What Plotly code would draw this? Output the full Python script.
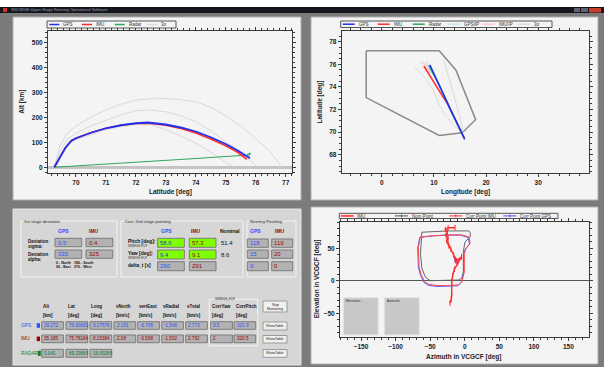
import plotly.graph_objects as go

# ---------------- data ----------------
# Top-left: altitude vs latitude
lat_gps = [69.28, 69.45, 69.65, 69.85, 70.0, 70.5, 71.0, 71.5, 72.0, 72.4, 73.0, 73.5, 74.0, 74.5, 75.0, 75.4, 75.81]
alt_gps = [0, 35, 78, 106, 116, 138, 156, 168, 176, 179, 171, 159, 143, 120, 93, 67, 36]
lat_imu = [69.28, 69.45, 69.65, 69.85, 70.0, 70.5, 71.0, 71.5, 72.0, 72.4, 73.0, 73.5, 74.0, 74.5, 75.0, 75.4, 75.70]
alt_imu = [0, 35, 78, 106, 116, 138, 156, 168, 175, 176, 168, 155, 137, 113, 86, 60, 32]
lat_radar = [69.28, 70.0, 71.0, 72.0, 73.0, 74.0, 75.0, 75.80, 75.82, 75.72]
alt_radar = [0, 5, 13, 20, 28, 35, 43, 49, 56, 52]
lat_s_outer = [69.28, 69.45, 69.7, 70.0, 70.5, 71.0, 71.5, 72.0, 72.6, 73.2, 74.0, 74.5, 75.0, 75.5, 76.0, 76.5, 76.87]
alt_s_outer = [0, 80, 135, 165, 200, 229, 252, 268, 276, 274, 262, 240, 205, 165, 115, 62, 0]
lat_s_mid = [69.28, 69.45, 69.7, 70.0, 70.5, 71.0, 71.5, 72.0, 72.4, 73.0, 73.5, 74.0, 74.5, 75.0, 75.5, 76.09]
alt_s_mid = [0, 60, 110, 136, 165, 189, 210, 226, 229, 222, 206, 183, 146, 103, 58, 0]
lat_s_low = [69.28, 69.5, 69.8, 70.0, 70.5, 71.0, 71.5, 72.0, 72.5, 73.0, 73.5, 74.0, 74.5, 75.0, 75.26]
alt_s_low = [0, 45, 95, 110, 130, 150, 163, 171, 170, 150, 125, 96, 60, 22, 0]

# Top-right: ground track
lon_gps = [15.9, 15.0, 14.2, 13.3, 12.5, 11.6, 10.8, 10.0, 9.2]
la_gps = [69.36, 70.2, 71.0, 71.85, 72.65, 73.55, 74.4, 75.2, 75.95]
lon_imu = [15.8, 15.0, 14.2, 13.3, 12.5, 11.5, 10.6, 9.2, 8.06]
la_imu = [69.5, 70.25, 71.0, 71.8, 72.6, 73.3, 74.0, 75.0, 75.85]
lon_radar = [15.8, 14.9, 14.1, 13.2, 12.4, 11.6, 10.9, 9.8, 9.0]
la_radar = [69.5, 70.3, 71.1, 71.95, 72.8, 73.6, 74.3, 75.2, 75.9]
lon_gpsiip = [8.6, 8.7, 9.4]
la_gpsiip = [76.35, 75.9, 75.2]
lon_imuiip = [7.4, 8.0, 8.5, 9.2]
la_imuiip = [76.1, 76.15, 75.9, 75.3]
lon_s_left = [6.2, 8.0, 9.8, 11.1, 12.5, 14.0, 15.3]
la_s_left = [75.8, 75.0, 73.8, 72.3, 71.3, 70.5, 70.0]
lon_s_right = [11.9, 12.9, 14.0, 14.9, 15.6]
la_s_right = [76.4, 74.8, 73.1, 71.5, 70.0]
lon_zone = [-3.0, 11.0, 14.2, 18.0, 15.4, 11.0, -3.0, -3.0]
la_zone = [77.2, 77.2, 75.5, 71.1, 69.95, 69.7, 73.05, 77.2]

# Bottom-right: pointing
az_nom = [-62, -45, -25, -5, 6, 8, 8, 0.5, -2, -2, -4, -9, -30, -50, -57, -62, -64, -63, -62]
el_nom = [75, 76, 77, 77, 77, 74, 68, 60, 45, 14, 5, 1.5, 0.5, 0.5, 6, 20, 42, 60, 75]
az_imu_loop = [-64, -45, -25, -5, 6, 8, 2, -0.5, -0.5, -4, -9, -25, -40, -52, -58, -63, -66, -67, -64]
el_imu_loop = [68, 70, 71, 71, 68, 58, 50, 42, 14, -1, -6, -7, -7, -5, -1, 10, 22, 52, 68]
az_gps_loop = [-65, -46, -26, -6, 5, 7, 1, -1.5, -1.5, -5, -10, -26, -41, -53, -59, -64, -67, -68, -65]
el_gps_loop = [67, 69.5, 70.5, 70.5, 67, 57, 49, 41, 13, -2, -7.5, -8.5, -8.5, -6.5, -2, 9, 21, 51, 67]
az_corr_imu = [-14, -24, -28, -25, -27, -24, -26, -24, -23, -20, -16, -13.5, -12, -4.5, -10, -15, -17.5, -18.8, -18.8, -19.5, -21.3]
el_corr_imu = [82, 82, 79, 75, 70, 66, 62, 58, 54, 49, 40, 33, 31, 37, 28, 18, 8, -1, -21, -28, -34]
az_corr_gps = [-14, -12.6]
el_corr_gps = [33, 30.8]

# Panel text values
dev_labels = ["GPS", "IMU"]
dev_sigma = ["0.5", "0.4"]
dev_alpha = ["335", "325"]
corr_pitch = ["58.6", "57.3"]
corr_yaw = ["9.4", "9.1"]
corr_dt = ["290", "291"]
nominal_pitch = "51.4"
nominal_yaw = "8.6"
reentry_rows = [["118", "119"], ["15", "20"], ["0", "0"]]
table_cols = ["Alt", "Lat", "Long", "vNorth", "vertEast", "vRadial", "vTotal", "CorrYaw", "CorrPitch"]
table_units = ["[km]", "[deg]", "[deg]", "[km/s]", "[km/s]", "[km/s]", "[km/s]", "[deg]", "[deg]"]
gps_row = ["39.272", "75.80683", "9.27676", "2.151", "-6.765", "-1.546", "2.773", "9.5", "321.9"]
imu_row = ["35.185", "75.78184", "8.15384", "2.08", "-6.568", "-1.502", "2.782", "2", "320.5"]
radar_row = ["0.041", "69.29864", "16.00264"]

legend1 = ["GPS", "IMU", "Radar", "3σ"]
legend2 = ["GPS", "IMU", "Radar", "GPSIIP", "IMUIIP", "3σ"]
legend3 = ["IMU", "Nom Point", "Corr Point IMU", "Corr Point GPS"]

# ---------------- styling helpers ----------------
FONT = "Liberation Sans"
W, H = 604, 367
BLUE = "#2030f0"
RED = "#ff2a2a"
GREEN = "#2ea860"
SIG = "#dadada"
TBLUE = "#2a50ff"
TRED = "#a00000"
TGREEN = "#10803a"


def X(p):
    return p / W


def Y(p):
    return 1 - p / H


shapes = []
annots = []


def rect(x0, y0, x1, y1, fill, line=None, lw=1, layer="below"):
    shapes.append(dict(type="rect", xref="paper", yref="paper",
                       x0=X(x0), x1=X(x1), y0=Y(y1), y1=Y(y0),
                       fillcolor=fill,
                       line=dict(color=line if line else fill, width=lw if line else 0),
                       layer=layer))


def seg(x0, y0, x1, y1, color, w=1.5):
    shapes.append(dict(type="line", xref="paper", yref="paper",
                       x0=X(x0), x1=X(x1), y0=Y(y0), y1=Y(y1),
                       line=dict(color=color, width=w), layer="above"))


def text(x, y, s, size=5, color="#222", anchor="left", bold=False, angle=0, bg=None):
    a = dict(x=X(x), y=Y(y), xref="paper", yref="paper",
             text=("<b>%s</b>" % s) if bold else s, showarrow=False,
             xanchor=anchor, yanchor="middle", textangle=angle,
             font=dict(size=size, color=color, family=FONT), borderpad=0)
    if bg:
        a["bgcolor"] = bg
    annots.append(a)


# ---------------- frame / panels ----------------
rect(0, 0, 604, 7, "#ffffff")
rect(0, 7, 604, 13, "#16161f")
rect(3, 8, 7, 12, "#d03030")
text(10, 10, "SNOWGE Upper Stage Running Operational Software", size=4, color="#9aa0b8")
rect(574, 8, 580, 12, "#606070")
rect(581, 8, 588, 12, "#606070")
rect(589, 8, 601, 12.5, "#c8402c")

PANEL = "#f4f4f4"
rect(13, 17, 301, 200, PANEL, "#b0b0b0")
rect(311, 17, 598, 200, PANEL, "#b0b0b0")
rect(311, 207, 598, 364, PANEL, "#b0b0b0")
GREY = "#d6d6d6"
rect(13, 209, 301, 365, GREY, "#e6e6e6")

# ---------------- legends (manual boxes) ----------------
rect(47, 21, 176, 28, PANEL, "#555555", 1, "above")
l1c = [BLUE, RED, GREEN, SIG]
for i, (n, c) in enumerate(zip(legend1, l1c)):
    x0 = 49.3 + i * 32.7
    seg(x0, 24.5, x0 + 10, 24.5, c, 1.5)
    text(x0 + 13, 24.6, n, size=4.5, color="#333")

rect(340.7, 21, 552, 27.5, PANEL, "#555555", 1, "above")
l2c = [BLUE, RED, GREEN, "#bfe6ee", "#ffc6cc", SIG]
for i, (n, c) in enumerate(zip(legend2, l2c)):
    x0 = 342.7 + i * 35
    seg(x0, 24.2, x0 + 12, 24.2, c, 1.5)
    text(x0 + 15, 24.3, n, size=4.5, color="#333")

rect(339.3, 213.3, 558, 218.5, PANEL, "#555555", 1, "above")
l3c = ["#ff5050", "#555555", RED, "#5050ff"]
l3x = [340.7, 395, 449.3, 503.3]
for n, c, x0 in zip(legend3, l3c, l3x):
    seg(x0, 215.9, x0 + 13, 215.9, c, 2 if n == "IMU" else 1)
    if n != "IMU":
        seg(x0 + 6.5, 214.5, x0 + 6.5, 217.3, c, 1)
    text(x0 + 15.5, 216, n, size=4.5, color="#333")

# ---------------- bottom-right gray boxes ----------------
rect(343.3, 297.7, 378.3, 335, "#c8c8c8", "#e4e4e4")
text(345, 300.5, "Elevation", size=3.5, color="#333")
rect(384.3, 297.7, 419.3, 335, "#c8c8c8", "#e4e4e4")
text(386, 300.5, "Azimuth", size=3.5, color="#333")

# ---------------- bottom-left control panel ----------------
BOXG = "#b2b2b2"
BOXL = "#7c7c7c"
GRN = "#80ff00"
GB = "#f2f2f2"

# group boxes
rect(21, 221, 117, 277, "rgba(0,0,0,0)", GB)
rect(121, 221, 243, 277, "rgba(0,0,0,0)", GB)
rect(247, 221, 296, 277, "rgba(0,0,0,0)", GB)
text(23, 221, "1st stage deviation", size=4.3, color="#333", bg=GREY)
text(123.5, 221, "Corr. 2nd stage pointing", size=4.3, color="#333", bg=GREY)
text(248.5, 221, "Reentry Pointing", size=4.3, color="#333", bg=GREY)

# 1st stage
text(57, 231, dev_labels[0], size=5, color=TBLUE, bold=True)
text(88, 231, dev_labels[1], size=5, color=TRED, bold=True)
text(26.7, 241.3, "Deviation", size=4.5, color="#111", bold=True)
text(26.7, 246.3, "sigma:", size=4.5, color="#111", bold=True)
text(26.7, 254.8, "Deviation", size=4.5, color="#111", bold=True)
text(26.7, 259.8, "alpha:", size=4.5, color="#111", bold=True)
for (y0, y1), vals in zip([(238.3, 246.7), (250, 258.3)], [dev_sigma, dev_alpha]):
    rect(55, y0, 81.7, y1, BOXG, BOXL)
    rect(86, y0, 112.7, y1, BOXG, BOXL)
    text(56.5, (y0 + y1) / 2, vals[0], size=6, color=TBLUE)
    text(87.5, (y0 + y1) / 2, vals[1], size=6, color=TRED)
text(55, 263.2, "0 - North", size=3.6, color="#111", bold=True)
text(73, 263.2, "180 - South", size=3.6, color="#111", bold=True)
text(55, 267.4, "90 - East", size=3.6, color="#111", bold=True)
text(73, 267.4, "270 - West", size=3.6, color="#111", bold=True)

# Corr 2nd stage
text(160, 231, "GPS", size=5, color=TBLUE, bold=True)
text(190, 231, "IMU", size=5, color=TRED, bold=True)
text(218.5, 231, "Nominal", size=5, color="#111", bold=True)
text(126.7, 240.8, "Pitch [deg]:", size=5, color="#111", bold=True)
text(126.7, 246.3, "SNWGS FCF", size=3.2, color="#333")
text(126.7, 252.8, "Yaw [deg]:", size=5, color="#111", bold=True)
text(126.7, 258.0, "SNWGS FCF", size=3.2, color="#333")
text(126.7, 265.6, "delta_t [s]", size=4.8, color="#111", bold=True)
rows = [(238.3, 247.3, corr_pitch, GRN), (250, 259, corr_yaw, GRN), (261.7, 270.7, corr_dt, BOXG)]
for y0, y1, vals, f in rows:
    rect(157.7, y0, 184.3, y1, f, BOXL)
    rect(189.3, y0, 216, y1, f, BOXL)
    text(159.2, (y0 + y1) / 2, vals[0], size=6, color=TBLUE if f == BOXG else "#2a40c0")
    text(190.8, (y0 + y1) / 2, vals[1], size=6, color=TRED)
text(220, 242.6, nominal_pitch, size=6, color="#111")
text(220, 254.6, nominal_yaw, size=6, color="#111")

# Reentry
text(249, 231, "GPS", size=5, color=TBLUE, bold=True)
text(273.5, 231, "IMU", size=5, color=TRED, bold=True)
for (y0, y1), vals in zip([(239, 247.3), (250, 258.3), (261.7, 270.7)], reentry_rows):
    rect(247.3, y0, 268.3, y1, BOXG, BOXL)
    rect(271.7, y0, 292.7, y1, BOXG, BOXL)
    text(248.8, (y0 + y1) / 2, vals[0], size=6, color=TBLUE)
    text(273.2, (y0 + y1) / 2, vals[1], size=6, color=TRED)

# Bottom table
rect(209.3, 299.3, 257.7, 345.7, "rgba(0,0,0,0)", GB)
text(214, 299.3, "SNWGS_FCF", size=3.2, color="#333", bg=GREY)
col_x = [41.7, 66, 90, 114, 137.7, 161.7, 185.7, 210.7, 234]
BW = 21.7
for cx, cname, cunit in zip(col_x, table_cols, table_units):
    text(cx + 0.5, 306, cname, size=4.5, color="#111", bold=True)
    text(cx + 0.5, 315, cunit, size=4.5, color="#111", bold=True)
table_rows = [(321.7, 329.3, gps_row, TBLUE, "GPS"), (335, 342.7, imu_row, TRED, "IMU"),
              (349.3, 357.3, radar_row, TGREEN, "RADAR")]
for y0, y1, vals, c, lab in table_rows:
    ym = (y0 + y1) / 2
    text(19.5, ym, lab, size=4.8, color=c)
    if lab == "RADAR":
        rect(37.8, ym - 2.6, 40.8, ym + 2.6, c)
    else:
        rect(36.7, ym - 2.3, 40, ym + 2.3, c)
    for cx, v in zip(col_x, vals):
        rect(cx, y0, cx + BW, y1, BOXG, BOXL)
        text(cx + 1.5, ym, v, size=4.6, color=c)
# buttons
rect(263, 301, 287, 312, "#f0f0f0", "#9a9a9a")
text(275, 304.5, "Stop", size=3.4, color="#222", anchor="center")
text(275, 308.5, "Monitoring", size=3.4, color="#222", anchor="center")
for y0, y1 in [(322, 330), (335.5, 343), (349.5, 357.3)]:
    rect(263, y0, 287, y1, "#f0f0f0", "#9a9a9a")
    text(275, (y0 + y1) / 2, "ShowTable", size=3.6, color="#222", anchor="center")

# ---------------- axis titles ----------------
text(170, 192.3, "Latitude [deg]", size=6.5, color="#222", anchor="center", bold=True)
text(21.7, 102, "Alt [km]", size=6.5, color="#222", anchor="center", bold=True, angle=-90)
text(465, 192.3, "Longitude [deg]", size=6.5, color="#222", anchor="center", bold=True)
text(319.5, 102, "Latitude [deg]", size=6.5, color="#222", anchor="center", bold=True, angle=-90)
text(463, 356.7, "Azimuth in VCGCF [deg]", size=6.5, color="#222", anchor="center", bold=True)
text(317.3, 279, "Elevation in VCGCF [deg]", size=6.5, color="#222", anchor="center", bold=True, angle=-90)

# ---------------- figure ----------------
fig = go.Figure()


def line(x, y, color, width, ax, mode="lines", marker=None):
    kw = dict(x=x, y=y, mode=mode, line=dict(color=color, width=width),
              xaxis="x" + ax, yaxis="y" + ax, hoverinfo="skip", showlegend=False)
    if marker:
        kw["marker"] = marker
    fig.add_trace(go.Scatter(**kw))


# plot 1
for xs, ys in [(lat_s_outer, alt_s_outer), (lat_s_mid, alt_s_mid), (lat_s_low, alt_s_low)]:
    line(xs, ys, SIG, 1, "")
line(lat_radar, alt_radar, GREEN, 1.2, "")
line(lat_imu, alt_imu, RED, 1.6, "")
line(lat_gps, alt_gps, BLUE, 1.8, "")

# plot 2
line(lon_zone, la_zone, "#8a8a8a", 1.5, "2")
line(lon_s_left, la_s_left, SIG, 1, "2")
line(lon_s_right, la_s_right, SIG, 1, "2")
line(lon_gpsiip, la_gpsiip, "#bfe6ee", 1.2, "2")
line(lon_imuiip, la_imuiip, "#ffc6cc", 1.2, "2")
line(lon_imu, la_imu, RED, 1.5, "2")
line(lon_radar, la_radar, GREEN, 1.5, "2")
line(lon_gps, la_gps, BLUE, 1.6, "2")

# plot 3
line(az_nom, el_nom, "#666666", 1, "3")
line(az_gps_loop, el_gps_loop, "#5a5aff", 1, "3")
line(az_imu_loop, el_imu_loop, "#ff4a4a", 1, "3")
line(az_corr_gps, el_corr_gps, "#3030ff", 1, "3", mode="lines+markers",
     marker=dict(symbol="line-ns-open", size=4, color="#3030ff", line=dict(width=1, color="#3030ff")))
line(az_corr_imu, el_corr_imu, RED, 1.4, "3", mode="lines+markers",
     marker=dict(symbol="line-ns-open", size=4, color=RED, line=dict(width=1, color=RED)))


def axis(dom, rng, dtick, mdt, anchor, tick0=0):
    return dict(domain=dom, range=rng, dtick=dtick, tick0=tick0, showline=True,
                linecolor="#3a3a3a", linewidth=1, mirror="allticks", ticks="outside",
                ticklen=3, tickwidth=1, tickcolor="#3a3a3a",
                minor=dict(dtick=mdt, tick0=tick0, ticks="outside", ticklen=2, tickcolor="#3a3a3a"),
                showgrid=False, zeroline=False, anchor=anchor, fixedrange=True,
                tickfont=dict(size=6.5, family=FONT, color="#222", weight="bold"))


xa1 = axis([X(48), X(292)], [69.07, 77.21], 1, 0.2, "y")
ya1 = axis([Y(173), Y(31)], [-23, 545], 100, 20, "x")
ya1.update(zeroline=True, zerolinecolor="#c4c4c4", zerolinewidth=3)
xa2 = axis([X(341.7), X(589.3)], [-7.7, 39.8], 10, 2, "y2")
ya2 = axis([Y(173), Y(31)], [66.38, 78.95], 2, 0.5, "x2")
xa3 = axis([X(340), X(588.7)], [-180.4, 179.4], 50, 10, "y3")
ya3 = axis([Y(336.7), Y(221.7)], [-85.7, 91.2], 50, 10, "x3")
ya3.update(zeroline=True, zerolinecolor="#555555", zerolinewidth=1)

fig.update_layout(
    width=W, height=H, margin=dict(l=0, r=0, t=0, b=0),
    paper_bgcolor="#7b7b7b", plot_bgcolor="rgba(0,0,0,0)",
    showlegend=False, shapes=shapes, annotations=annots,
    font=dict(family=FONT),
    xaxis=xa1, yaxis=ya1, xaxis2=xa2, yaxis2=ya2, xaxis3=xa3, yaxis3=ya3,
)

fig.write_html("out.html", config={"displayModeBar": False},
               post_script="document.body.style.margin='0px';document.body.style.overflow='hidden';")
